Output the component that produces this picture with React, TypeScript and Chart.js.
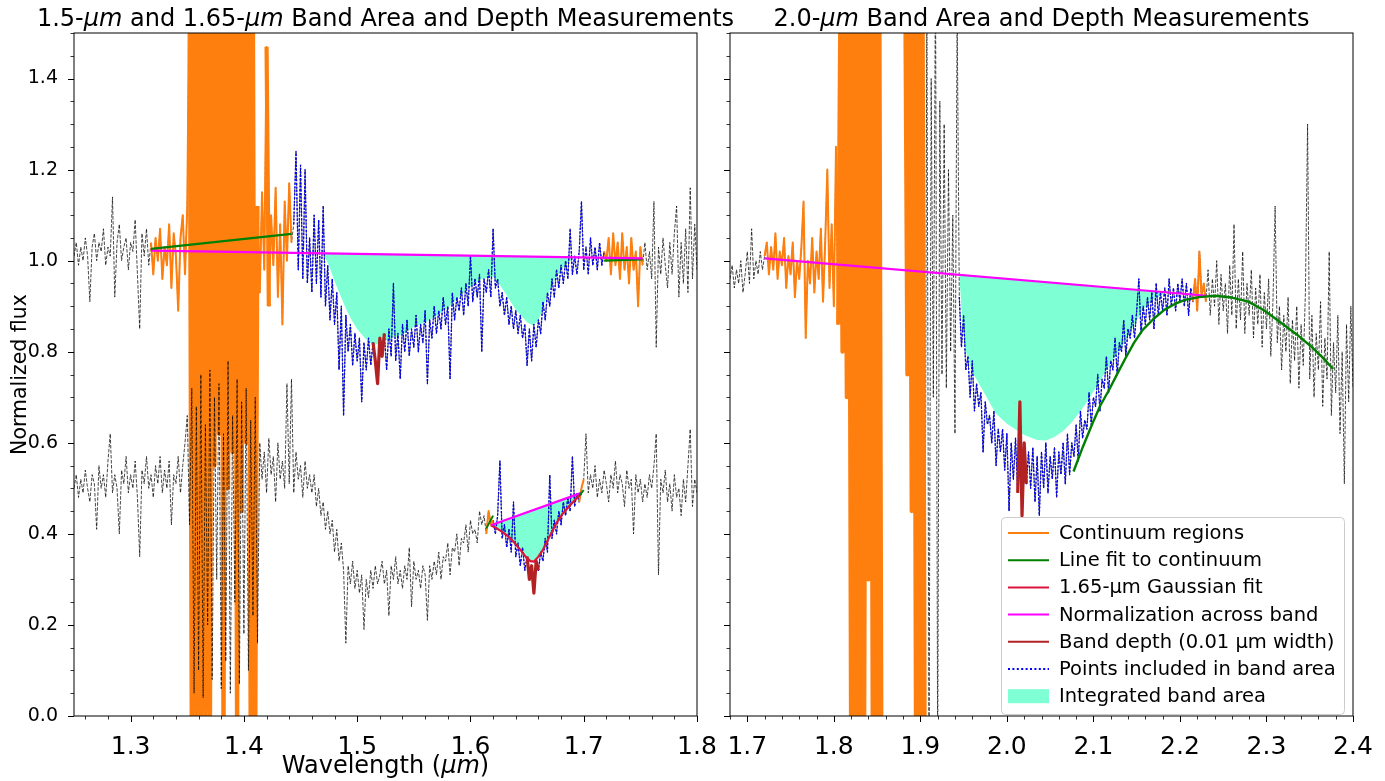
import React, { useEffect, useRef } from 'react';
import { Chart, registerables } from 'chart.js';

Chart.register(...registerables);

const FONT = '"DejaVu Sans", "Liberation Sans", sans-serif';

// ---------------- data ----------------
// wavelength grids (micron)
const LEFT_X0 = 1.25;
const LEFT_DX = 0.002;
const RIGHT_X0 = 1.68;
const RIGHT_DX = 0.0025;

// upper spectrum of left panel (normalized flux)
const UPPER_FLUX = [
  1.01, 1.04, 0.99, 1.03, 1.0, 1.05, 1.01, 0.91, 1.03, 1.06,
  1.0, 1.04, 1.02, 1.07, 0.99, 1.03, 1.01, 1.14, 0.92, 1.04,
  1.08, 1.0, 1.03, 1.05, 0.98, 1.04, 1.02, 1.09, 0.97, 0.85,
  1.06, 1.01, 1.07, 0.99,
  1.04, 0.97, 1.05, 1.0, 1.07, 0.96, 1.03, 0.99, 1.08, 0.94,
  1.06, 1.01, 0.89, 1.05, 1.1, 0.97, 1.12,
  1.65, -0.1, 1.7, -0.1, 1.62, -0.1, 1.7, -0.1, 1.66, -0.1,
  1.7, 0.55, 1.6, 0.62, 1.7, -0.1, 1.68, 0.5, 1.7, 0.58,
  1.65, -0.1, 1.7, 0.45, 1.62, 0.6, 1.7, -0.1, 1.55, -0.1,
  1.12, 0.93, 1.15, 0.98, 1.47, 0.9, 1.1, 0.99, 1.16, 0.92,
  1.08, 0.86, 1.13, 1.0, 1.17, 1.04,
  1.08, 1.24, 0.98, 1.21, 0.96, 1.2, 0.95, 1.05, 0.93, 1.1,
  0.95, 1.09, 0.92, 1.12, 0.9, 0.99, 0.87, 0.96, 0.86, 0.93,
  0.76, 0.9, 0.66, 0.88, 0.8, 0.86, 0.77, 0.84, 0.78, 0.83,
  0.69, 0.82, 0.76, 0.83, 0.77, 0.82, 0.78, 0.73, 0.83, 0.79,
  0.84, 0.76, 0.85, 0.79, 0.95, 0.78, 0.84, 0.74, 0.86, 0.8,
  0.87, 0.79, 0.85, 0.81, 0.88, 0.8, 0.86, 0.82, 0.89, 0.73,
  0.87, 0.83, 0.9, 0.84, 0.89, 0.85, 0.92, 0.86, 0.9, 0.74,
  0.93, 0.87, 0.92, 0.89, 0.94, 0.88, 0.95, 0.9, 1.01, 0.91,
  0.96, 0.92, 0.97, 0.8, 0.96, 0.93, 0.98, 0.92, 1.07, 0.94,
  0.96, 0.9, 0.93, 0.88, 0.92, 0.86, 0.9, 0.85, 0.89, 0.84,
  0.88, 0.83, 0.86, 0.77, 0.85, 0.78, 0.86, 0.81, 0.87, 0.84,
  0.91, 0.87, 0.93, 0.9, 0.96, 0.92, 0.98, 0.94, 0.99, 0.95,
  1.0, 0.96, 1.07, 0.97, 1.01, 0.97, 1.02, 1.13, 0.98, 1.03,
  0.97, 1.05, 0.99, 1.03, 0.98, 1.04, 0.99, 1.02, 1.0,
  1.05, 0.97, 1.06, 0.99, 1.04, 0.96, 1.06, 0.98, 1.03, 0.95,
  1.05, 0.98, 1.02, 0.9, 1.03, 0.99,
  1.04, 0.98, 1.02, 0.96, 1.13, 0.81, 1.03, 0.97, 1.05, 0.99,
  0.94, 1.04, 0.97, 1.06, 1.12, 0.92, 1.04, 0.95, 1.07, 0.93,
  1.16, 0.96, 1.08, 0.98,
];

// lower spectrum of left panel
const LOWER_FLUX = [
  0.5, 0.53, 0.48, 0.52, 0.49, 0.54, 0.5, 0.47, 0.53, 0.51,
  0.41, 0.55, 0.5, 0.53, 0.48, 0.56, 0.62, 0.49, 0.53, 0.5,
  0.4, 0.54, 0.51, 0.57, 0.49, 0.53, 0.5, 0.56, 0.48, 0.35,
  0.54, 0.51, 0.57, 0.5, 0.53, 0.48, 0.55, 0.51, 0.57, 0.49,
  0.54, 0.5, 0.56, 0.42, 0.53, 0.51, 0.57, 0.49, 0.55, 0.6,
  0.66, 0.42, 0.72, 0.05, 0.68, 0.1, 0.75, 0.04, 0.64, 0.2,
  0.76, 0.08, 0.7, 0.3, 0.73, 0.06, 0.62, 0.12, 0.78, 0.05,
  0.66, 0.25, 0.74, 0.07, 0.69, 0.18, 0.72, 0.1, 0.65, 0.22,
  0.7, 0.16, 0.6,
  0.52, 0.58, 0.49, 0.61, 0.53, 0.57, 0.47, 0.6, 0.52, 0.56,
  0.5, 0.73, 0.51, 0.74, 0.49, 0.58, 0.52, 0.55, 0.48, 0.56,
  0.5, 0.53,
  0.49, 0.53, 0.46, 0.5, 0.44, 0.47, 0.41, 0.45, 0.4, 0.43,
  0.36, 0.41, 0.34, 0.38, 0.32, 0.16, 0.33, 0.29, 0.34, 0.28,
  0.32, 0.27, 0.31, 0.19, 0.3, 0.26, 0.32, 0.28, 0.33, 0.29,
  0.31,
  0.34, 0.29, 0.32, 0.22, 0.33, 0.3, 0.35, 0.29, 0.32, 0.28,
  0.33, 0.3, 0.37, 0.24, 0.34, 0.3, 0.32, 0.28, 0.33, 0.31,
  0.21, 0.33, 0.3, 0.34,
  0.31, 0.36, 0.3, 0.35, 0.34, 0.38, 0.31, 0.37, 0.36, 0.4,
  0.33, 0.39, 0.38, 0.42, 0.36, 0.43, 0.4, 0.41, 0.38, 0.45,
  0.42, 0.44, 0.4, 0.45, 0.42,
  0.43, 0.4, 0.44, 0.56, 0.39, 0.42, 0.37, 0.41, 0.36, 0.47,
  0.35, 0.38, 0.33, 0.37, 0.32, 0.35, 0.3, 0.33, 0.27, 0.34,
  0.32, 0.36, 0.34, 0.39, 0.36, 0.53, 0.39, 0.43, 0.4, 0.45,
  0.42, 0.47, 0.44, 0.48, 0.45, 0.57, 0.46, 0.49, 0.47, 0.5,
  0.52, 0.62, 0.49, 0.53, 0.5, 0.55, 0.48, 0.52, 0.49, 0.54,
  0.51, 0.47, 0.53, 0.5, 0.56, 0.49, 0.53, 0.51, 0.46, 0.54,
  0.5, 0.52, 0.4, 0.53, 0.49, 0.52, 0.47, 0.51, 0.48, 0.53,
  0.5, 0.55, 0.62, 0.31, 0.52, 0.49, 0.54, 0.47, 0.51, 0.45,
  0.53, 0.48, 0.5, 0.44, 0.52, 0.47, 0.55, 0.63, 0.46, 0.52,
  0.49,
];

// right panel spectrum (null = gap in the data)
const RIGHT_FLUX = [
  0.96, 0.99, 0.94, 0.98, 0.95, 1.0, 0.93, 0.97, 1.02, 0.95,
  1.07, 0.96, 1.0, 0.97, 1.02, 0.98, 1.01,
  1.04, 0.97, 1.03, 0.98, 1.06, 0.96, 1.02, 0.99, 1.05, 0.94,
  1.01, 0.97, 1.04, 0.92, 1.0, 0.96, 1.03, 1.13, 0.83, 1.0,
  0.95, 1.05, 0.93, 1.02, 0.96, 1.07, 0.91, 1.04, 1.2, 0.94,
  1.08, 0.9, 1.25, 0.86, 1.55, 0.8, 1.6, 0.7, 1.62,
  -0.1, 1.7, -0.1, 1.65, -0.1, 1.7, -0.1, 1.62, 0.3, 1.7,
  -0.1, 1.66, -0.1, 1.7, -0.1,
  null, null, null, null, null, null, null, null, null, null,
  1.62, 0.75, 1.7, 0.45, 1.68, -0.1, 1.7, -0.1, 1.65, -0.1,
  1.6, -0.1, 1.4, 0.7, 1.65, -0.1, 1.35, 0.75, 1.3, 0.72,
  1.2, 0.8, 1.1, 0.62, 1.55,
  0.92, 0.81, 0.88, 0.76, 0.79, 0.7, 0.78, 0.67, 0.73, 0.68,
  0.71, 0.58, 0.69, 0.64, 0.66, 0.6, 0.67, 0.55, 0.63, 0.58,
  0.63, 0.54, 0.62, 0.45, 0.6, 0.52, 0.61, 0.49, 0.69, 0.44,
  0.6, 0.51, 0.58, 0.5, 0.59, 0.47, 0.57, 0.44, 0.58, 0.5,
  0.6, 0.49, 0.57, 0.52, 0.59, 0.48, 0.58, 0.53, 0.6, 0.51,
  0.62, 0.53, 0.6, 0.57, 0.64, 0.56, 0.67, 0.61, 0.65, 0.63,
  0.71, 0.64, 0.7, 0.68, 0.75, 0.67, 0.74, 0.72, 0.79, 0.71,
  0.78, 0.76, 0.83, 0.75, 0.82, 0.8, 0.87, 0.79, 0.85, 0.83,
  0.88, 0.83, 0.89, 0.96, 0.84, 0.9, 0.86, 0.92, 0.87, 0.93,
  0.85, 0.95, 0.88, 0.93, 0.89, 0.94, 0.88, 0.96, 0.9, 0.94,
  0.89, 0.95, 0.91, 0.96, 0.9, 0.95, 0.88, 0.94, 0.91, 0.96,
  0.89, 1.02, 0.92, 0.95, 0.91,
  0.98, 0.88, 0.96, 0.9, 1.0, 0.86, 0.97, 0.89, 0.95, 0.84,
  0.99, 0.88, 1.08, 0.85, 0.96, 0.87, 1.02, 0.84, 0.95, 0.88,
  0.98, 0.83, 0.94, 0.86, 0.97, 0.81, 0.93, 0.85, 0.96, 0.79,
  0.91, 1.12, 0.82, 0.9, 0.76, 0.88, 0.8, 0.92, 0.73, 0.87,
  0.78, 0.9, 0.72, 0.86, 0.77, 0.93, 1.3, 0.74, 0.88, 0.7,
  0.84, 0.76, 0.91, 0.68, 0.83, 0.74, 1.02, 0.66, 0.82, 0.71,
  0.88, 0.62, 0.8, 0.51, 0.86, 0.69, 0.9, 0.72,
];

// wavelength ranges of the highlighted parts
const UPPER_CONT_1 = [1.318, 1.442];
const UPPER_CONT_2 = [1.718, 1.752];
const UPPER_BAND = [1.444, 1.718];
const UPPER_DEPTH = [1.514, 1.524];
const LOWER_CONT_1 = [1.614, 1.62];
const LOWER_CONT_2 = [1.696, 1.7];
const LOWER_BAND = [1.62, 1.698];
const LOWER_DEPTH = [1.65, 1.66];
const RIGHT_CONT_1 = [1.72, 1.905];
const RIGHT_CONT_2 = [2.215, 2.23];
const RIGHT_BAND = [1.945, 2.225];
const RIGHT_DEPTH = [2.0125, 2.0225];

// straight lines: [x0, x1], [y0, y1]
const NORM_UPPER_X = [1.318, 1.752];
const NORM_UPPER_Y = [1.022, 1.005];
const NORM_LOWER_X = [1.618, 1.698];
const NORM_LOWER_Y = [0.419, 0.49];
const NORM_RIGHT_X = [1.72, 2.231];
const NORM_RIGHT_Y = [1.005, 0.923];
const FIT_UPPER_1_X = [1.318, 1.442];
const FIT_UPPER_1_Y = [1.026, 1.059];
const FIT_UPPER_2_X = [1.718, 1.752];
const FIT_UPPER_2_Y = [1.0, 1.003];
const FIT_LOWER_1_X = [1.614, 1.62];
const FIT_LOWER_1_Y = [0.412, 0.44];
const FIT_LOWER_2_X = [1.696, 1.7];
const FIT_LOWER_2_Y = [0.484, 0.496];

// smoothed lower edge of the integrated areas
const AREA_UPPER_X = [1.47, 1.475, 1.48, 1.485, 1.49, 1.495, 1.5, 1.505, 1.51, 1.515, 1.52, 1.525, 1.53, 1.54, 1.55, 1.56, 1.57, 1.58, 1.59, 1.6, 1.61, 1.62, 1.625, 1.63, 1.64, 1.65, 1.655, 1.66, 1.665, 1.67, 1.675, 1.68, 1.685, 1.692];
const AREA_UPPER_Y = [1.016, 0.99, 0.955, 0.925, 0.895, 0.87, 0.85, 0.835, 0.822, 0.815, 0.818, 0.824, 0.83, 0.838, 0.855, 0.864, 0.879, 0.896, 0.92, 0.943, 0.96, 0.965, 0.95, 0.932, 0.892, 0.865, 0.858, 0.868, 0.905, 0.935, 0.96, 0.98, 0.993, 1.007];
const AREA_RIGHT_X = [1.945, 1.948, 1.952, 1.96, 1.972, 1.987, 2.0, 2.011, 2.02, 2.035, 2.045, 2.055, 2.065, 2.074, 2.084, 2.094, 2.108, 2.12, 2.133, 2.148, 2.157, 2.17, 2.182, 2.19];
const AREA_RIGHT_Y = [0.969, 0.88, 0.804, 0.755, 0.716, 0.665, 0.642, 0.628, 0.617, 0.606, 0.605, 0.613, 0.626, 0.643, 0.667, 0.694, 0.737, 0.775, 0.811, 0.862, 0.892, 0.915, 0.928, 0.93];

// 1.65-um Gaussian fit (lower spectrum)
const GAUSS_X = [1.618, 1.622, 1.627, 1.632, 1.636, 1.64, 1.645, 1.649, 1.653, 1.656, 1.66, 1.664, 1.667, 1.671, 1.676, 1.681, 1.687, 1.692, 1.698];
const GAUSS_Y = [0.419, 0.414, 0.406, 0.397, 0.388, 0.377, 0.362, 0.349, 0.34, 0.339, 0.35, 0.365, 0.38, 0.4, 0.424, 0.443, 0.46, 0.474, 0.488];

// polynomial continuum fit (right panel)
const CURVE_RIGHT_X = [2.077, 2.088, 2.099, 2.108, 2.118, 2.128, 2.138, 2.147, 2.157, 2.17, 2.182, 2.194, 2.206, 2.222, 2.24, 2.26, 2.279, 2.298, 2.318, 2.335, 2.352, 2.365, 2.377];
const CURVE_RIGHT_Y = [0.537, 0.592, 0.643, 0.682, 0.716, 0.753, 0.789, 0.82, 0.848, 0.873, 0.892, 0.905, 0.914, 0.92, 0.923, 0.919, 0.91, 0.89, 0.862, 0.838, 0.811, 0.787, 0.762];

// ticks
const X_TICKS_LEFT = [1.3, 1.4, 1.5, 1.6, 1.7, 1.8];
const X_TICKS_RIGHT = [1.7, 1.8, 1.9, 2.0, 2.1, 2.2, 2.3, 2.4];
const Y_TICKS = [0, 0.2, 0.4, 0.6, 0.8, 1.0, 1.2, 1.4];

// texts
const TITLE_LEFT = [
  { text: '1.5-', italic: false },
  { text: 'μm', italic: true },
  { text: ' and 1.65-', italic: false },
  { text: 'μm', italic: true },
  { text: ' Band Area and Depth Measurements', italic: false },
];
const TITLE_RIGHT = [
  { text: '2.0-', italic: false },
  { text: 'μm', italic: true },
  { text: ' Band Area and Depth Measurements', italic: false },
];
const X_TITLE = [
  { text: 'Wavelength (', italic: false },
  { text: 'μm', italic: true },
  { text: ')', italic: false },
];
const Y_TITLE = 'Normalized flux';
const LEGEND_LABELS = [
  'Continuum regions',
  'Line fit to continuum',
  '1.65-μm Gaussian fit',
  'Normalization across band',
  'Band depth (0.01 μm width)',
  'Points included in band area',
  'Integrated band area',
];

// colours
const ORANGE = '#ff7f0e';
const GREEN = '#008000';
const CRIMSON = '#dc143c';
const MAGENTA = '#ff00ff';
const FIREBRICK = '#b22222';
const BLUE = '#0000ff';
const AQUA = '#7fffd4';
const BLACK = 'rgba(0,0,0,0.9)';

// ---------------- helpers ----------------
const grid = (x0: number, dx: number, ys: (number | null)[]) =>
  ys.map((y, i) => ({ x: Math.round((x0 + i * dx) * 10000) / 10000, y }));
const pair = (xs: number[], ys: number[]) => xs.map((x, i) => ({ x, y: ys[i] }));
const within = (pts: any[], r: number[]) => pts.filter((p) => p.x >= r[0] - 1e-9 && p.x <= r[1] + 1e-9);

const line = (data: any[], color: string, width: number, order: number, extra: any = {}) => ({
  data,
  borderColor: color,
  backgroundColor: color,
  borderWidth: width,
  pointRadius: 0,
  pointHoverRadius: 0,
  fill: false,
  tension: 0,
  spanGaps: false,
  borderJoinStyle: 'round',
  borderCapStyle: 'butt',
  order,
  ...extra,
});
const dashedBlack = (data: any[], order: number) => line(data, BLACK, 0.8, order, { borderDash: [3.5, 1.5] });
const dotted = (data: any[], order: number) => line(data, BLUE, 1.3, order, { borderDash: [2, 1.6] });
// continuum: very steep (saturated telluric) segments are drawn thicker so that they merge as in the dense original
const continuum = (data: any[], order: number) =>
  line(data, ORANGE, 2, order, {
    segment: { borderWidth: (c: any) => (Math.abs(c.p1.y - c.p0.y) > 250 ? 4.2 : 2) },
  });

function drawSegments(ctx: CanvasRenderingContext2D, segs: any[], size: number, cx: number, baseline: number) {
  const fonts = segs.map((s) => `${s.italic ? 'italic ' : ''}${size}px ${FONT}`);
  let total = 0;
  const widths = segs.map((s, i) => {
    ctx.font = fonts[i];
    const w = ctx.measureText(s.text).width;
    total += w;
    return w;
  });
  let x = cx - total / 2;
  ctx.textAlign = 'left';
  ctx.textBaseline = 'alphabetic';
  ctx.fillStyle = '#000';
  segs.forEach((s, i) => {
    ctx.font = fonts[i];
    ctx.fillText(s.text, x, baseline);
    x += widths[i];
  });
}

function drawFrameAndTicks(chart: any) {
  const { ctx, chartArea: a, scales } = chart;
  const xs = scales.x;
  const ys = scales.y;
  ctx.save();
  ctx.strokeStyle = '#000';
  const k0 = Math.ceil(xs.min / 0.02 - 1e-6);
  const k1 = Math.floor(xs.max / 0.02 + 1e-6);
  for (let k = k0; k <= k1; k++) {
    const v = k * 0.02;
    const major = Math.abs(v * 10 - Math.round(v * 10)) < 1e-6;
    const px = Math.round(xs.getPixelForValue(v)) + 0.5;
    ctx.lineWidth = major ? 1 : 0.8;
    ctx.beginPath();
    ctx.moveTo(px, a.bottom);
    ctx.lineTo(px, a.bottom + (major ? 6 : 3.5));
    ctx.stroke();
  }
  for (let k = 0; k <= 30; k++) {
    const v = k * 0.05;
    const major = k % 4 === 0;
    const py = Math.round(ys.getPixelForValue(v)) + 0.5;
    ctx.lineWidth = major ? 1 : 0.8;
    ctx.beginPath();
    ctx.moveTo(a.left, py);
    ctx.lineTo(a.left - (major ? 6 : 3.5), py);
    ctx.stroke();
  }
  ctx.lineWidth = 1;
  ctx.strokeRect(a.left, a.top, a.right - a.left, a.bottom - a.top);
  ctx.restore();
}

function roundRect(ctx: CanvasRenderingContext2D, x: number, y: number, w: number, h: number, r: number) {
  ctx.beginPath();
  ctx.moveTo(x + r, y);
  ctx.lineTo(x + w - r, y);
  ctx.arcTo(x + w, y, x + w, y + r, r);
  ctx.lineTo(x + w, y + h - r);
  ctx.arcTo(x + w, y + h, x + w - r, y + h, r);
  ctx.lineTo(x + r, y + h);
  ctx.arcTo(x, y + h, x, y + h - r, r);
  ctx.lineTo(x, y + r);
  ctx.arcTo(x, y, x + r, y, r);
  ctx.closePath();
}

const LEGEND_STYLES = [
  { color: ORANGE },
  { color: GREEN },
  { color: CRIMSON },
  { color: MAGENTA },
  { color: FIREBRICK },
  { color: BLUE, dash: [2, 2.4] },
  { color: AQUA, box: true },
];

function drawLegend(chart: any) {
  const { ctx, chartArea: a } = chart;
  const w = 343;
  const h = 197;
  const right = a.right - 9;
  const bottom = a.bottom - 2;
  const left = right - w;
  const top = bottom - h;
  ctx.save();
  roundRect(ctx, left + 0.5, top + 0.5, w, h, 4);
  ctx.fillStyle = 'rgba(255,255,255,0.85)';
  ctx.fill();
  ctx.strokeStyle = '#cccccc';
  ctx.lineWidth = 1;
  ctx.stroke();
  ctx.font = `19.5px ${FONT}`;
  ctx.textAlign = 'left';
  ctx.textBaseline = 'middle';
  LEGEND_LABELS.forEach((label, i) => {
    const cy = top + 16 + i * 27.2;
    const st: any = LEGEND_STYLES[i];
    if (st.box) {
      ctx.fillStyle = st.color;
      ctx.fillRect(left + 7, cy - 7, 41, 14);
    } else {
      ctx.strokeStyle = st.color;
      ctx.lineWidth = 2;
      ctx.setLineDash(st.dash || []);
      ctx.beginPath();
      ctx.moveTo(left + 7, cy);
      ctx.lineTo(left + 48, cy);
      ctx.stroke();
      ctx.setLineDash([]);
    }
    ctx.fillStyle = '#000';
    ctx.fillText(label, left + 58, cy + 1);
  });
  ctx.restore();
}

function baseOptions(xmin: number, xmax: number, xticks: number[], showY: boolean, padding: any) {
  return {
    animation: false,
    responsive: false,
    maintainAspectRatio: false,
    events: [],
    layout: { padding },
    plugins: { legend: { display: false }, tooltip: { enabled: false }, title: { display: false } },
    scales: {
      x: {
        type: 'linear',
        min: xmin,
        max: xmax,
        grid: { display: false },
        border: { display: false },
        ticks: {
          color: '#000',
          font: { family: FONT, size: 25 },
          padding: 8,
          maxRotation: 0,
          minRotation: 0,
          autoSkip: false,
          callback: (v: any) => Number(v).toFixed(1),
        },
        afterBuildTicks: (s: any) => {
          s.ticks = xticks.map((v) => ({ value: v }));
        },
        afterFit: (s: any) => {
          s.height = 65;
          s.paddingLeft = 0;
          s.paddingRight = 0;
        },
      },
      y: showY
        ? {
            type: 'linear',
            min: 0,
            max: 1.5,
            grid: { display: false },
            border: { display: false },
            title: {
              display: true,
              text: Y_TITLE,
              color: '#000',
              font: { family: FONT, size: 20.5 },
              padding: { top: 8, bottom: 0 },
            },
            ticks: {
              color: '#000',
              font: { family: FONT, size: 19 },
              padding: 8,
              autoSkip: false,
              callback: (v: any) => Number(v).toFixed(1),
            },
            afterBuildTicks: (s: any) => {
              s.ticks = Y_TICKS.map((v) => ({ value: v }));
            },
            afterFit: (s: any) => {
              s.width = 74;
              s.paddingTop = 0;
              s.paddingBottom = 0;
            },
          }
        : { type: 'linear', min: 0, max: 1.5, display: false },
    },
  };
}

function leftConfig() {
  const upper = grid(LEFT_X0, LEFT_DX, UPPER_FLUX);
  const lower = grid(LEFT_X0, LEFT_DX, LOWER_FLUX);
  const datasets: any[] = [];
  const add = (d: any) => {
    datasets.push(d);
    return datasets.length - 1;
  };
  const normU = add(line(pair(NORM_UPPER_X, NORM_UPPER_Y), MAGENTA, 2.2, 3));
  const normL = add(line(pair(NORM_LOWER_X, NORM_LOWER_Y), MAGENTA, 2.2, 3));
  add(line(pair(AREA_UPPER_X, AREA_UPPER_Y), 'rgba(0,0,0,0)', 0, 30, { fill: normU, backgroundColor: AQUA }));
  add(line(pair(GAUSS_X, GAUSS_Y), 'rgba(0,0,0,0)', 0, 30, { fill: normL, backgroundColor: AQUA }));
  add(dashedBlack(upper, 20));
  add(continuum(within(upper, UPPER_CONT_1), 18));
  add(continuum(within(upper, UPPER_CONT_2), 18));
  add(dashedBlack(lower, 16));
  add(dotted(within(upper, UPPER_BAND), 14));
  add(dotted(within(lower, LOWER_BAND), 14));
  add(continuum(within(lower, LOWER_CONT_1), 12));
  add(continuum(within(lower, LOWER_CONT_2), 12));
  add(line(within(upper, UPPER_DEPTH), FIREBRICK, 3.2, 6));
  add(line(within(lower, LOWER_DEPTH), FIREBRICK, 3.2, 6));
  add(line(pair(GAUSS_X, GAUSS_Y), CRIMSON, 2.2, 5));
  add(line(pair(FIT_UPPER_1_X, FIT_UPPER_1_Y), GREEN, 2.2, 2));
  add(line(pair(FIT_UPPER_2_X, FIT_UPPER_2_Y), GREEN, 2.2, 4));
  add(line(pair(FIT_LOWER_1_X, FIT_LOWER_1_Y), GREEN, 2, 2));
  add(line(pair(FIT_LOWER_2_X, FIT_LOWER_2_Y), GREEN, 2, 2));

  const decor = {
    id: 'decorLeft',
    afterDraw(chart: any) {
      const { ctx, chartArea: a } = chart;
      drawFrameAndTicks(chart);
      ctx.save();
      drawSegments(ctx, TITLE_LEFT, 24, (a.left + a.right) / 2, 26);
      drawSegments(ctx, X_TITLE, 24, (a.left + a.right) / 2, 773);
      ctx.restore();
    },
  };
  return {
    type: 'line',
    data: { datasets },
    options: baseOptions(1.25, 1.8, X_TICKS_LEFT, true, { left: 0, right: 48, top: 33, bottom: 0 }),
    plugins: [decor],
  };
}

function rightConfig() {
  const spec = grid(RIGHT_X0, RIGHT_DX, RIGHT_FLUX);
  const datasets: any[] = [];
  const add = (d: any) => {
    datasets.push(d);
    return datasets.length - 1;
  };
  const norm = add(line(pair(NORM_RIGHT_X, NORM_RIGHT_Y), MAGENTA, 2.2, 3));
  add(line(pair(AREA_RIGHT_X, AREA_RIGHT_Y), 'rgba(0,0,0,0)', 0, 30, { fill: norm, backgroundColor: AQUA }));
  add(dashedBlack(spec, 20));
  add(continuum(within(spec, RIGHT_CONT_1), 18));
  add(dotted(within(spec, RIGHT_BAND), 14));
  add(continuum(within(spec, RIGHT_CONT_2), 12));
  add(line(within(spec, RIGHT_DEPTH), FIREBRICK, 3.2, 6));
  add(line(pair(CURVE_RIGHT_X, CURVE_RIGHT_Y), GREEN, 2.4, 2));

  const decor = {
    id: 'decorRight',
    afterDraw(chart: any) {
      const { ctx, chartArea: a } = chart;
      drawFrameAndTicks(chart);
      ctx.save();
      drawSegments(ctx, TITLE_RIGHT, 24, (a.left + a.right) / 2, 26);
      ctx.restore();
      drawLegend(chart);
    },
  };
  return {
    type: 'line',
    data: { datasets },
    options: baseOptions(1.68, 2.4, X_TICKS_RIGHT, false, { left: 10, right: 32, top: 33, bottom: 0 }),
    plugins: [decor],
  };
}

function Panel({ make, left, width }: { make: () => any; left: number; width: number }) {
  const ref = useRef<HTMLCanvasElement | null>(null);
  useEffect(() => {
    if (!ref.current) return;
    const chart = new Chart(ref.current, make());
    return () => chart.destroy();
  }, []);
  return (
    <canvas
      ref={ref}
      width={width}
      height={781}
      style={{ position: 'absolute', left, top: 0, width, height: 781, display: 'block' }}
    />
  );
}

export default function App() {
  return (
    <div style={{ position: 'absolute', left: 0, top: 0, width: 1385, height: 781, background: '#ffffff', overflow: 'hidden' }}>
      <Panel make={leftConfig} left={0} width={745} />
      <Panel make={rightConfig} left={720} width={665} />
    </div>
  );
}
